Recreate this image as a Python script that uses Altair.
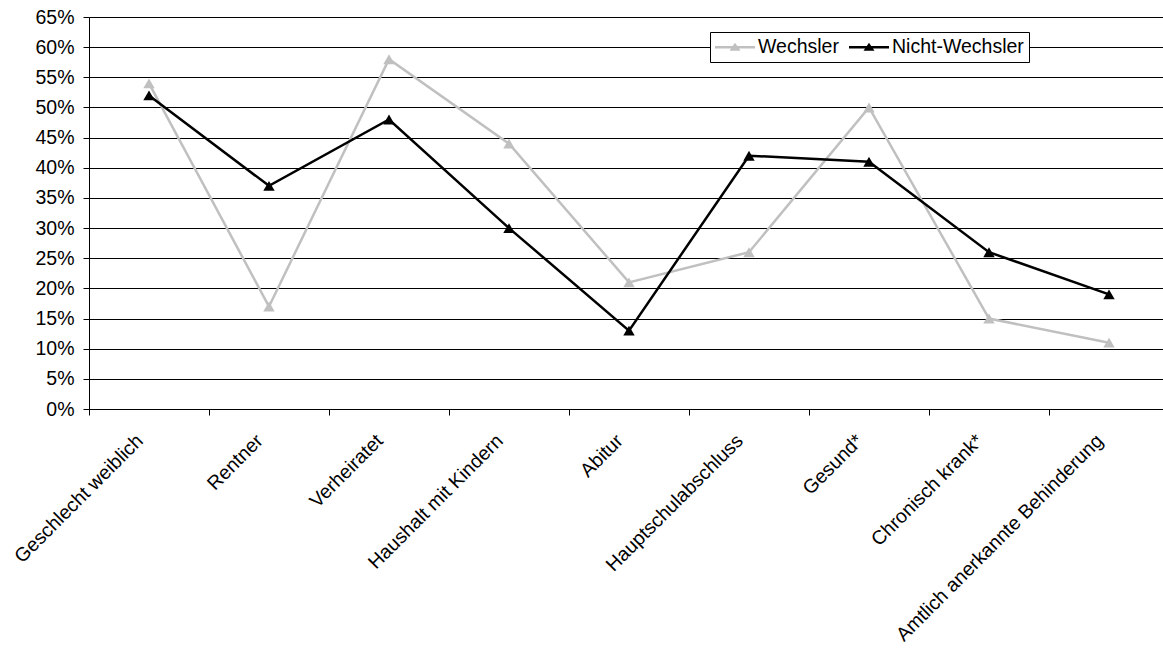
import altair as alt
import pandas as pd

# Share of each group with the given characteristic, in percent
categories = [
    "Geschlecht weiblich",
    "Rentner",
    "Verheiratet",
    "Haushalt mit Kindern",
    "Abitur",
    "Hauptschulabschluss",
    "Gesund*",
    "Chronisch krank*",
    "Amtlich anerkannte Behinderung",
]
wechsler = [54, 17, 58, 44, 21, 26, 50, 15, 11]
nicht_wechsler = [52, 37, 48, 30, 13, 42, 41, 26, 19]
series = ["Wechsler", "Nicht-Wechsler"]
series_colors = ["#c0c0c0", "#000000"]
y_ticks = list(range(0, 70, 5))

rows = []
for name, values in zip(series, [wechsler, nicht_wechsler]):
    for cat, val in zip(categories, values):
        rows.append({"Merkmal": cat, "Gruppe": name, "Anteil": val})
df = pd.DataFrame(rows)

FONT = "Liberation Sans"
FS = 19.5

x_enc = alt.X(
    "Merkmal:N",
    sort=categories,
    scale=alt.Scale(paddingInner=0, paddingOuter=0, range=[0, 1080]),
    axis=alt.Axis(
        title=None,
        grid=False,
        tickBand="extent",
        tickSize=6,
        tickColor="black",
        domainColor="black",
        labelAngle=-45,
        labelAlign="right",
        labelBaseline="top",
        labelPadding=16,
        labelOffset=-16,
        labelLimit=0,
        labelFont=FONT,
        labelFontSize=FS,
        labelColor="black",
    ),
)

y_enc = alt.Y(
    "Anteil:Q",
    scale=alt.Scale(domain=[0, 65], nice=False, zero=True),
    axis=alt.Axis(
        title=None,
        values=y_ticks,
        labelExpr="datum.value + '%'",
        grid=True,
        gridColor="black",
        gridOpacity=1,
        gridWidth=1,
        tickSize=6,
        tickColor="black",
        domainColor="black",
        labelPadding=9,
        labelFont=FONT,
        labelFontSize=FS,
        labelColor="black",
    ),
)

color_scale = alt.Scale(domain=series, range=series_colors)

# Legend symbol: a line segment with a triangle marker in its middle
legend_symbol = "M-1,-0.125H3V0.125H-1Z M0.45,0.35L1,-0.45L1.55,0.35Z"

legend = alt.Legend(
    title=None,
    orient="none",
    legendX=621,
    legendY=15,
    direction="horizontal",
    fillColor="white",
    strokeColor="black",
    padding=5,
    cornerRadius=0,
    symbolType=legend_symbol,
    symbolSize=400,
    symbolStrokeWidth=0,
    symbolOpacity=1,
    labelOffset=23,
    columnPadding=10,
    labelFont=FONT,
    labelFontSize=FS,
    labelColor="black",
)

base = alt.Chart(df)
layers = []
for name, col in zip(series, series_colors):
    src = base.transform_filter(alt.datum.Gruppe == name)
    line = src.mark_line(strokeWidth=2.5, color=col).encode(x=x_enc, y=y_enc)
    pts = src.mark_point(shape="triangle-up", filled=True, size=130, opacity=1).encode(
        x=x_enc,
        y=y_enc,
        color=alt.Color("Gruppe:N", scale=color_scale, legend=legend),
    )
    layers += [line, pts]

chart = (
    alt.layer(*layers)
    .properties(
        width=1074,
        height=392,
        autosize=alt.AutoSizeParams(type="none"),
        padding={"left": 89, "top": 17, "right": 0, "bottom": 239},
        background="white",
    )
    .configure_view(stroke=None)
)

chart.save("out.html", embed_options={"renderer": "svg", "actions": False})
